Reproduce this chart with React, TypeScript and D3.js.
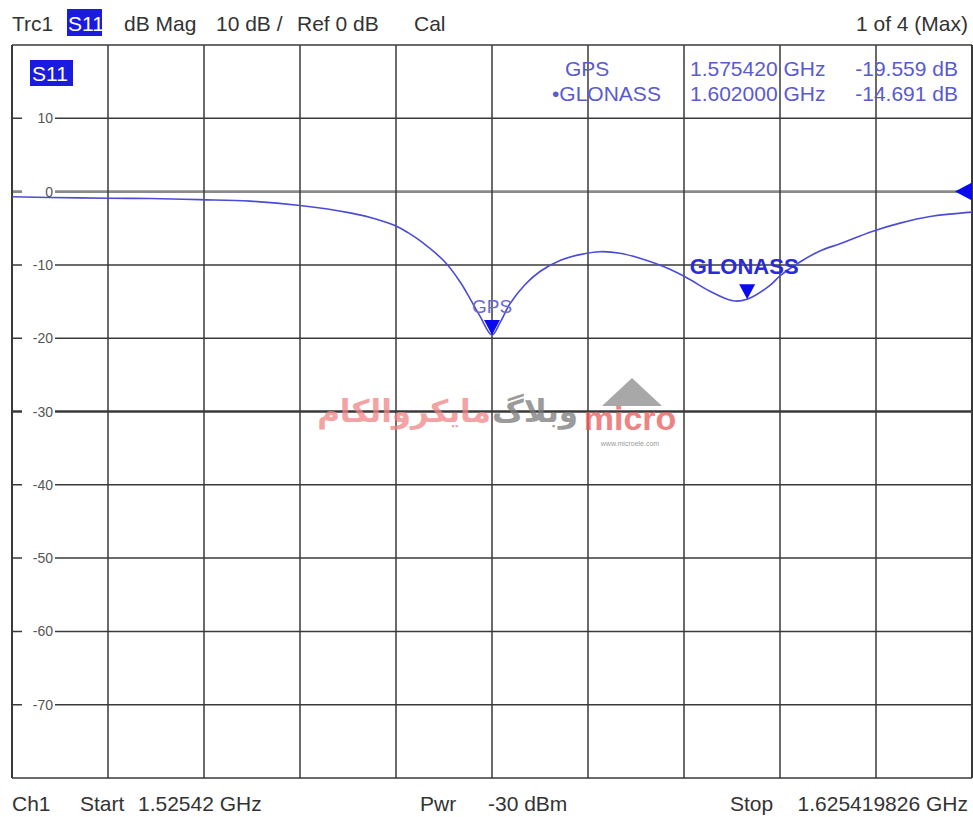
import React from 'react';
import * as d3 from 'd3';

// trace S11, frequency in MHz, magnitude in dB
const freqMHz = [
  1525.42, 1529.38, 1535.42, 1539.8, 1545.0, 1550.21, 1555.42, 1560.63, 1563.23, 1565.42,
  1566.67, 1567.92, 1570.52, 1572.09, 1573.13, 1574.17, 1575.42, 1576.25, 1577.29, 1578.85,
  1580.42, 1582.5, 1584.58, 1586.67, 1588.75, 1590.83, 1593.96, 1596.04, 1598.13, 1600.52,
  1601.98, 1604.38, 1605.42, 1607.5, 1609.58, 1611.67, 1615.1, 1617.92, 1621.04, 1625.42,
];
const s11dB = [
  -0.7, -0.8, -0.9, -0.95, -1.1, -1.3, -1.9, -2.9, -3.7, -4.7,
  -5.6, -6.7, -9.6, -12.3, -14.6, -17.0, -19.56, -17.9, -15.3, -12.7,
  -10.9, -9.4, -8.6, -8.2, -8.4, -9.1, -10.6, -12.0, -13.6, -14.9,
  -14.69, -12.8, -11.5, -9.6, -8.1, -7.1, -5.4, -4.3, -3.4, -2.8,
];

const markerNames = ['GPS', 'GLONASS'];
const markerFreqMHz = [1575.42, 1602.0];
const markerdB = [-19.559, -14.691];
const markerFreqText = ['1.575420 GHz', '1.602000 GHz'];
const markerValText = ['-19.559 dB', '-14.691 dB'];

const yTicks = [10, 0, -10, -20, -30, -40, -50, -60, -70];
const startMHz = 1525.42;
const stopMHz = 1625.419826;

const W = 973;
const H = 817;
const left = 12;
const right = 972;
const top = 45;
const bottom = 778;

const FONT = '"Liberation Sans", Arial, sans-serif';

export default function App() {
  const x = d3.scaleLinear().domain([startMHz, stopMHz]).range([left, right]);
  const y = d3.scaleLinear().domain([-80, 20]).range([bottom, top]);

  const vLines = d3.range(11).map((i) => startMHz + (i * (stopMHz - startMHz)) / 10);
  const hLines = d3.range(-80, 21, 10);

  const line = d3
    .line<number>()
    .x((d, i) => x(freqMHz[i]))
    .y((d) => y(d))
    .curve(d3.curveCatmullRom.alpha(0.5));

  const traceColor = '#4b4bd6';
  const markColor = '#0a0aee';
  const txt = '#333';

  return (
    <svg
      width={W}
      height={H}
      style={{ position: 'absolute', left: 0, top: 0, background: '#fff' }}
      fontFamily={FONT}
    >
      <rect x={0} y={0} width={W} height={H} fill="#fff" />

      {/* header */}
      <g fontSize={21} fill={txt}>
        <text x={12} y={31}>Trc1</text>
        <rect x={67} y={9} width={35} height={27} fill="#1b1be0" />
        <text x={68} y={31} fill="#fff">S11</text>
        <text x={124} y={31}>dB Mag</text>
        <text x={216} y={31}>10 dB /</text>
        <text x={297} y={31}>Ref 0 dB</text>
        <text x={414} y={31}>Cal</text>
        <text x={968} y={31} textAnchor="end">1 of 4 (Max)</text>
      </g>

      {/* grid */}
      <g>
        {hLines.map((v) => (
          <line
            key={'h' + v}
            x1={left}
            x2={right}
            y1={y(v)}
            y2={y(v)}
            stroke={v === 0 ? '#8a8a8a' : '#3a3a3a'}
            strokeWidth={v === 0 ? 2.6 : v === -30 ? 2.4 : 1.5}
          />
        ))}
        {vLines.map((f, i) => (
          <line
            key={'v' + i}
            x1={x(f)}
            x2={x(f)}
            y1={top}
            y2={bottom}
            stroke="#3a3a3a"
            strokeWidth={i === 0 || i === 10 ? 2 : 1.5}
          />
        ))}
      </g>

      {/* y tick labels */}
      <g>
        {yTicks.map((v) => (
          <g key={'t' + v}>
            <rect x={22} y={y(v) - 6} width={33} height={12} fill="#fff" />
            <text x={53} y={y(v) + 5} fontSize={14} fill="#555" textAnchor="end">
              {v}
            </text>
          </g>
        ))}
      </g>

      {/* watermark */}
      <g opacity={0.75}>
        <text x={404} y={422} fontSize={31} fontWeight="bold" fill="#f08585" textAnchor="middle" fontFamily="DejaVu Sans">
          مایکروالکام
        </text>
        <text x={535} y={422} fontSize={31} fontWeight="bold" fill="#7a7a7a" textAnchor="middle" fontFamily="DejaVu Sans">
          وبلاگ
        </text>
        <polygon points="632,378 662,406 602,406" fill="#8c8c8c" />
        <text x={630} y={430} fontSize={34} fontWeight="bold" fill="#e85a5a" textAnchor="middle">micro</text>
        <text x={630} y={446} fontSize={7} fill="#777" textAnchor="middle">www.microele.com</text>
      </g>

      {/* trace */}
      <path d={line(s11dB) || ''} fill="none" stroke={traceColor} strokeWidth={1.6} />

      {/* S11 label in plot */}
      <rect x={30} y={60} width={43} height={26} fill="#1b1be0" />
      <text x={32} y={81} fontSize={21} fill="#fff">S11</text>

      {/* marker table */}
      <g fontSize={21} fill="#5a5ad0">
        {markerNames.map((n, i) => (
          <g key={'m' + n}>
            <text x={i === 0 ? 565 : 552} y={76 + i * 25}>
              {i === 0 ? n : '\u2022' + n}
            </text>
            <text x={690} y={76 + i * 25}>{markerFreqText[i]}</text>
            <text x={958} y={76 + i * 25} textAnchor="end">{markerValText[i]}</text>
          </g>
        ))}
      </g>

      {/* markers on trace */}
      {markerNames.map((n, i) => {
        const mx = x(markerFreqMHz[i]);
        const my = y(markerdB[i]);
        return (
          <g key={'mk' + n}>
            <polygon
              points={`${mx},${my} ${mx - 8},${my - 15} ${mx + 8},${my - 15}`}
              fill={markColor}
            />
            {i === 0 ? (
              <text x={mx} y={my - 22} fontSize={19} fill="#6a6ad0" textAnchor="middle">{n}</text>
            ) : (
              <text x={mx - 3} y={my - 25} fontSize={22} fontWeight="bold" fill="#2a2ad8" textAnchor="middle">{n}</text>
            )}
          </g>
        );
      })}

      {/* reference level marker */}
      <polygon
        points={`${right - 17},${y(0)} ${right},${y(0) - 9} ${right},${y(0) + 9}`}
        fill={markColor}
      />

      {/* footer */}
      <g fontSize={21} fill={txt}>
        <text x={12} y={811}>Ch1</text>
        <text x={80} y={811}>Start</text>
        <text x={138} y={811}>1.52542 GHz</text>
        <text x={420} y={811}>Pwr</text>
        <text x={488} y={811}>-30 dBm</text>
        <text x={730} y={811}>Stop</text>
        <text x={968} y={811} textAnchor="end">1.625419826 GHz</text>
      </g>
    </svg>
  );
}
